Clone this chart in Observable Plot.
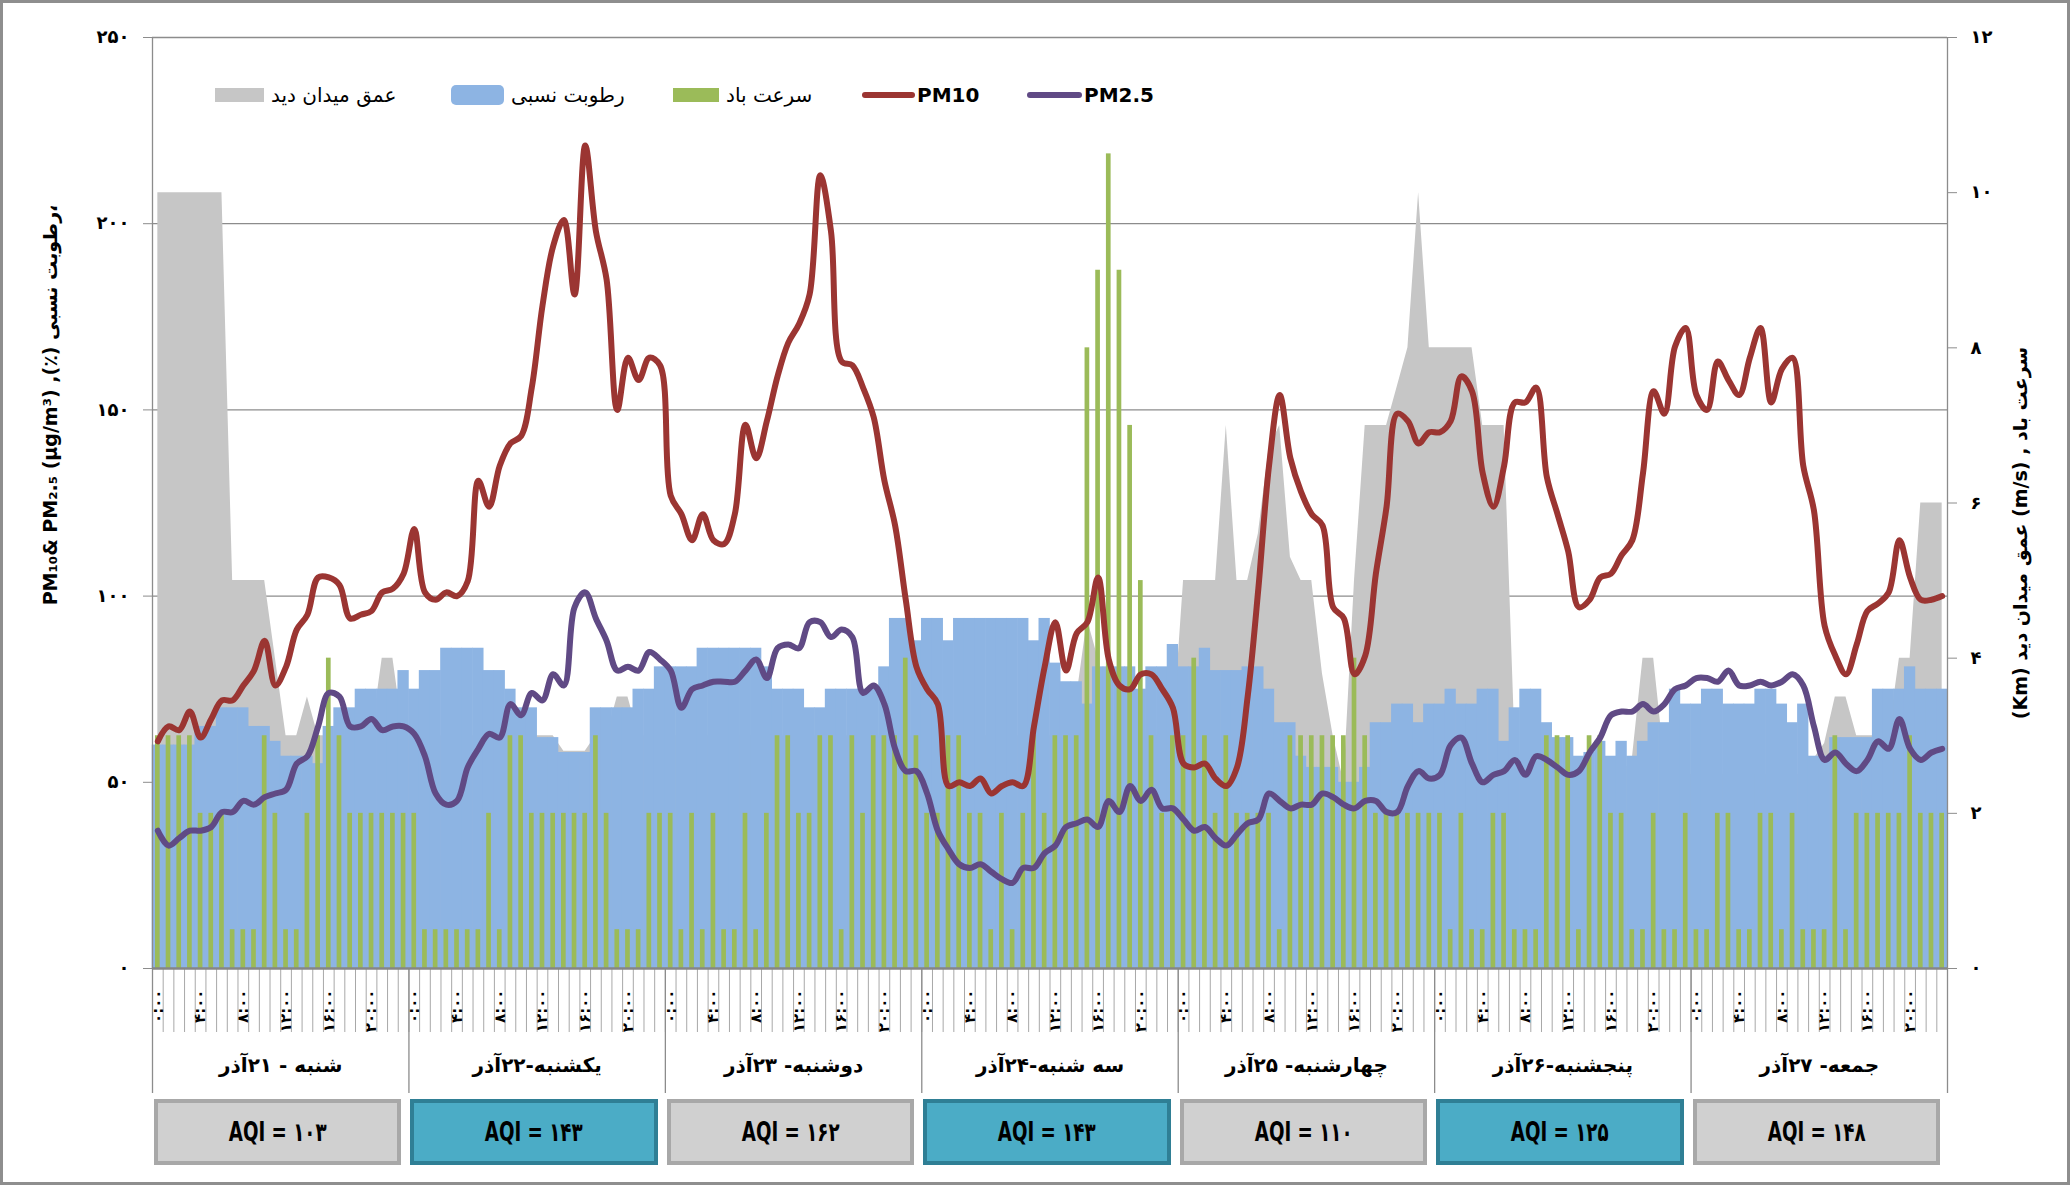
<!DOCTYPE html>
<html><head><meta charset="utf-8">
<script src="https://cdn.jsdelivr.net/npm/d3@7"></script>
<script src="https://cdn.jsdelivr.net/npm/@observablehq/plot@0.6"></script>
<style>
body{margin:0;background:#fff;}
#wrap{position:relative;width:2070px;height:1185px;background:#fff;overflow:hidden;font-family:"DejaVu Sans",sans-serif;}
#frame{position:absolute;left:0;top:0;right:0;bottom:0;border:3px solid #8e8e8e;pointer-events:none;}
#chart{position:absolute;left:0;top:0;}
.leg{position:absolute;display:flex;align-items:center;height:24px;top:83px;font-size:20px;white-space:nowrap;}
.sw{display:inline-block;margin-right:7px;}
.aqi{position:absolute;box-sizing:border-box;display:flex;align-items:center;justify-content:center;font-family:"DejaVu Sans Condensed","DejaVu Sans",sans-serif;font-weight:bold;font-size:26px;color:#000;}
.aqi span{display:inline-block;transform:scaleX(0.78);white-space:nowrap;}
</style></head>
<body><div id="wrap"><div id="chart"></div><div id="frame"></div></div>
<script>
const fa = s => String(s).replace(/[0-9]/g, d => "۰۱۲۳۴۵۶۷۸۹"[+d]);
const KM = 250 / 12; // right axis (0-12) to left axis (0-250)

// ---------- data ----------
const days = ["شنبه - ۲۱آذر","یکشنبه-۲۲آذر","دوشنبه- ۲۳آذر","سه شنبه-۲۴آذر","چهارشنبه- ۲۵آذر","پنجشنبه-۲۶آذر","جمعه- ۲۷آذر"];
const aqi = [103,143,162,143,110,125,148];
const aqiLevel = ["gray","teal","gray","teal","gray","teal","gray"];
const hourTicks = ["0:00","4:00","8:00","12:00","16:00","20:00"];
const leftTicks = [0,50,100,150,200,250];
const rightTicks = [0,2,4,6,8,10,12];
const seriesNames = ["عمق میدان دید","رطوبت نسبی","سرعت باد","PM10","PM2.5"];

const pm10 = [
 61,65,64,69,62,67,72,72,76,80,88,76,81,91,95,105,105,103,94,95,96,101,102,106,
 118,101,99,101,100,104,131,124,135,141,143,156,178,194,201,181,221,198,185,150,164,158,164,162,
 127,122,115,122,115,114,122,146,137,147,159,168,173,181,213,198,163,162,156,148,131,119,99,81,
 75,71,49,50,49,51,47,49,50,49,65,81,93,80,90,93,105,83,76,75,79,79,75,70,
 55,54,55,51,49,54,73,102,135,154,137,128,122,119,97,94,79,84,106,124,149,147,141,144,
 144,147,159,155,133,124,135,152,152,156,132,122,112,97,99,105,106,111,115,133,155,149,167,172,
 154,150,163,158,154,164,172,152,161,164,135,123,92,84,79,87,96,98,101,115,105,99,99,100];
const pm25 = [
 37,33,35,37,37,38,42,42,45,44,46,47,48,55,57,65,74,73,65,65,67,64,65,65,
 63,57,47,44,45,54,59,63,62,71,68,74,72,79,76,97,101,94,88,80,81,80,85,83,
 80,70,75,76,77,77,77,80,83,78,86,87,86,93,93,89,91,89,74,76,71,59,53,53,
 47,37,32,28,27,28,26,24,23,27,27,31,33,38,39,40,38,45,42,49,45,48,43,43,
 40,37,38,35,33,36,39,40,47,45,43,44,44,47,46,44,43,45,45,42,42,49,53,51,
 52,60,62,55,50,52,53,56,52,57,56,54,52,53,58,62,68,69,69,71,69,71,75,76,
 78,78,77,80,76,76,77,76,77,79,76,65,56,58,55,53,56,61,59,67,59,56,58,59];
const humidity = [
 60,60,60,60,65,65,70,70,70,65,65,61,57,57,57,55,65,70,70,75,75,75,75,80,
 75,80,80,86,86,86,86,80,80,75,70,70,62,62,58,58,58,70,70,70,70,75,75,81,
 81,81,81,86,86,86,86,86,86,81,75,75,75,70,70,75,75,75,75,75,81,94,94,88,
 94,94,88,94,94,94,94,94,94,94,88,94,82,77,77,71,81,81,81,81,75,81,81,87,
 81,81,86,80,80,80,81,81,75,66,66,57,54,54,54,50,50,54,66,66,71,71,66,71,
 71,75,71,71,75,75,61,70,75,75,66,62,62,57,58,61,57,61,57,61,66,66,75,71,
 71,75,75,71,71,71,75,75,71,66,71,57,57,62,62,62,62,75,75,75,81,75,75,75];
const wind = [
 3,3,3,3,2,2,2,0.5,0.5,0.5,3,2,0.5,0.5,2,3,4,3,2,2,2,2,2,2,
 2,0.5,0.5,0.5,0.5,0.5,0.5,2,0.5,3,3,2,2,2,2,2,2,3,2,0.5,0.5,0.5,2,2,
 2,0.5,2,0.5,2,0.5,0.5,2,0.5,2,3,3,2,2,3,3,0.5,3,2,3,3,3,4,3,
 2,2,3,3,2,2,0.5,2,0.5,2,3,2,3,3,3,8,9,10.5,9,7,5,3,2,3,
 3,4,3,2,3,2,2,2,2,0.5,3,3,3,3,3,3,4,3,2,2,2,2,2,2,
 2,0.5,2,0.5,0.5,2,2,0.5,0.5,0.5,3,3,3,0.5,3,3,2,2,0.5,0.5,2,0.5,0.5,2,
 0.5,0.5,2,2,0.5,0.5,2,2,0.5,2,0.5,0.5,0.5,3,0.5,2,2,2,2,2,3,2,2,2];
const visibility = [
 10,10,10,10,10,10,10,5,5,5,5,4,3,3,3.5,3,3,3,3,3,3,4,4,3,
 3,3,3,3,3,3,3,3,3,3,3,3,3,3,2.8,2.8,2.8,3,3,3.5,3.5,3,3,3,
 3,3,3,3,3,3,3,3,3,3,3,3,3,3,3,3,3,3,3,3,3,3,3,3,
 3,3,3,3,3,3,3,3,3,3,3,3,3,3,3.5,4.5,4,3,3,3,3,3,3,3,
 5,5,5,5,7,5,5,5.6,6.7,7,5.3,5,5,3.8,3,2.4,5,7,7,7,7.5,8,10,8,
 8,8,8,8,7,7,7,3,2.5,2.5,2.5,2.5,2.5,2.5,2.5,2.5,2.5,2.5,2.7,4,4,2.7,2.5,2.5,
 2.5,2.5,2.5,2.5,2.5,2.5,2.5,2.5,2.5,2.5,2.5,2.7,2.9,3.5,3.5,3,3,3,3,4,4,6,6,6];

// ---------- styles ----------
const C = {vis:"#c6c6c6", hum:"#8db4e3", wind:"#9bbb59", pm10:"#9b3532", pm25:"#604a85", grid:"#8c8c8c"};
const boxStyle = {gray:{fill:"#d0d0d0", border:"#a8a8a8"}, teal:{fill:"#4bacc6", border:"#2f7f95"}};

const rows = pm10.map((v, i) => ({i, pm10: v, pm25: pm25[i], hum: humidity[i], wind: wind[i], vis: visibility[i]}));
const leftTitle = "PM₁₀& PM₂.₅ (µg/m³) ,(٪) رطوبت نسبی،";
const rightTitle = "\u202Bسرعت باد , (m/s) عمق میدان دید (Km)\u202C";

const chart = Plot.plot({
  width: 2070, height: 1185,
  marginTop: 37, marginLeft: 152, marginRight: 123, marginBottom: 217,
  x: {domain: [0, 168], axis: null},
  y: {domain: [0, 250], axis: null},
  style: {fontFamily: "'DejaVu Sans', sans-serif", background: "transparent", overflow: "visible"},
  marks: [
    Plot.ruleY(leftTicks.slice(1), {stroke: C.grid, strokeWidth: 1.3}),
    Plot.areaY(rows, {x: d => d.i + 0.5, y: d => d.vis * KM, fill: C.vis}),
    Plot.rectY(rows, {x1: d => d.i, x2: d => d.i + 1, y: "hum", fill: C.hum, insetLeft: -0.3, insetRight: -0.3}),
    Plot.rectY(rows, {x1: d => d.i, x2: d => d.i + 1, y: d => d.wind * KM, fill: C.wind, insetLeft: 3, insetRight: 3}),
    Plot.ruleX([0, 168], {stroke: C.grid, strokeWidth: 1.3}),
    Plot.axisX({ticks: d3.range(0, 169), tickSize: 64, tickFormat: () => "", stroke: "#a8a8a8", strokeWidth: 1}),
    Plot.axisX({ticks: d3.range(0, 169, 24), tickSize: 125, tickFormat: () => "", stroke: "#8c8c8c", strokeWidth: 1.3}),
    Plot.axisX({ticks: d3.range(0, 168, 4).map(h => h + 0.5), tickSize: 0, tickPadding: 21, tickRotate: -90,
      tickFormat: h => fa(hourTicks[Math.floor(h / 4) % 6]), fontSize: 15, fontWeight: "bold"}),
    Plot.ruleY([0], {stroke: "#868686", strokeWidth: 2.5}),
    Plot.line(rows, {x: d => d.i + 0.5, y: "pm10", stroke: C.pm10, strokeWidth: 6, curve: "catmull-rom"}),
    Plot.line(rows, {x: d => d.i + 0.5, y: "pm25", stroke: C.pm25, strokeWidth: 6, curve: "catmull-rom"}),
    Plot.axisY({anchor: "left", ticks: leftTicks, tickSize: 9, tickPadding: 14, tickFormat: fa,
      fontSize: 18, fontWeight: "bold", stroke: C.grid, label: null}),
    Plot.axisY({anchor: "right", ticks: rightTicks.map(v => v * KM), tickSize: 9, tickPadding: 14,
      tickFormat: v => fa(Math.round(v / KM)), fontSize: 18, fontWeight: "bold", stroke: C.grid, label: null}),
    Plot.text(days, {x: (d, i) => i * 24 + 12, frameAnchor: "bottom", dy: 103, text: d => d, fontSize: 20, fontWeight: "bold"}),
    Plot.text([leftTitle], {frameAnchor: "left", textAnchor: "middle", dx: -102, dy: -98, rotate: -90, text: d => d, fontSize: 19, fontWeight: "bold"}),
    Plot.text([rightTitle], {frameAnchor: "right", textAnchor: "middle", dx: 73, dy: 30, rotate: -90, text: d => d, fontSize: 19, fontWeight: "bold"})
  ]
});
document.getElementById("chart").appendChild(chart);

const wrap = document.getElementById("wrap");
// legend
const legendX = [215, 451, 673, 862, 1027];
const legendSw = [
  {type: "box", color: C.vis, w: 49, h: 14, r: 0},
  {type: "box", color: C.hum, w: 53, h: 20, r: 5},
  {type: "box", color: C.wind, w: 46, h: 14, r: 0},
  {type: "line", color: C.pm10, w: 53, h: 6, r: 3},
  {type: "line", color: C.pm25, w: 55, h: 6, r: 3}
];
seriesNames.forEach((name, k) => {
  const it = document.createElement("div");
  it.className = "leg";
  it.style.left = legendX[k] + "px";
  const s = legendSw[k];
  const sw = document.createElement("span");
  sw.className = "sw";
  sw.style.width = s.w + "px"; sw.style.height = s.h + "px";
  sw.style.background = s.color; sw.style.borderRadius = s.r + "px";
  if (s.type === "line") sw.style.marginRight = "2px";
  const tx = document.createElement("span");
  tx.textContent = name;
  if (s.type === "line") tx.style.fontWeight = "bold";
  it.appendChild(sw); it.appendChild(tx);
  wrap.appendChild(it);
});
// AQI boxes
const xs = chart.scale("x");
aqi.forEach((v, d) => {
  const x0 = xs.apply(d * 24), x1 = xs.apply(d * 24 + 24);
  const b = document.createElement("div");
  b.className = "aqi";
  const st = boxStyle[aqiLevel[d]];
  b.style.left = (x0 + 2) + "px";
  b.style.width = (x1 - x0 - 9) + "px";
  b.style.top = "1099px";
  b.style.height = "66px";
  b.style.background = st.fill;
  b.style.border = "4px solid " + st.border;
  const t = document.createElement("span");
  t.textContent = "AQI = " + fa(v);
  b.appendChild(t);
  wrap.appendChild(b);
});
</script>
</body></html>
